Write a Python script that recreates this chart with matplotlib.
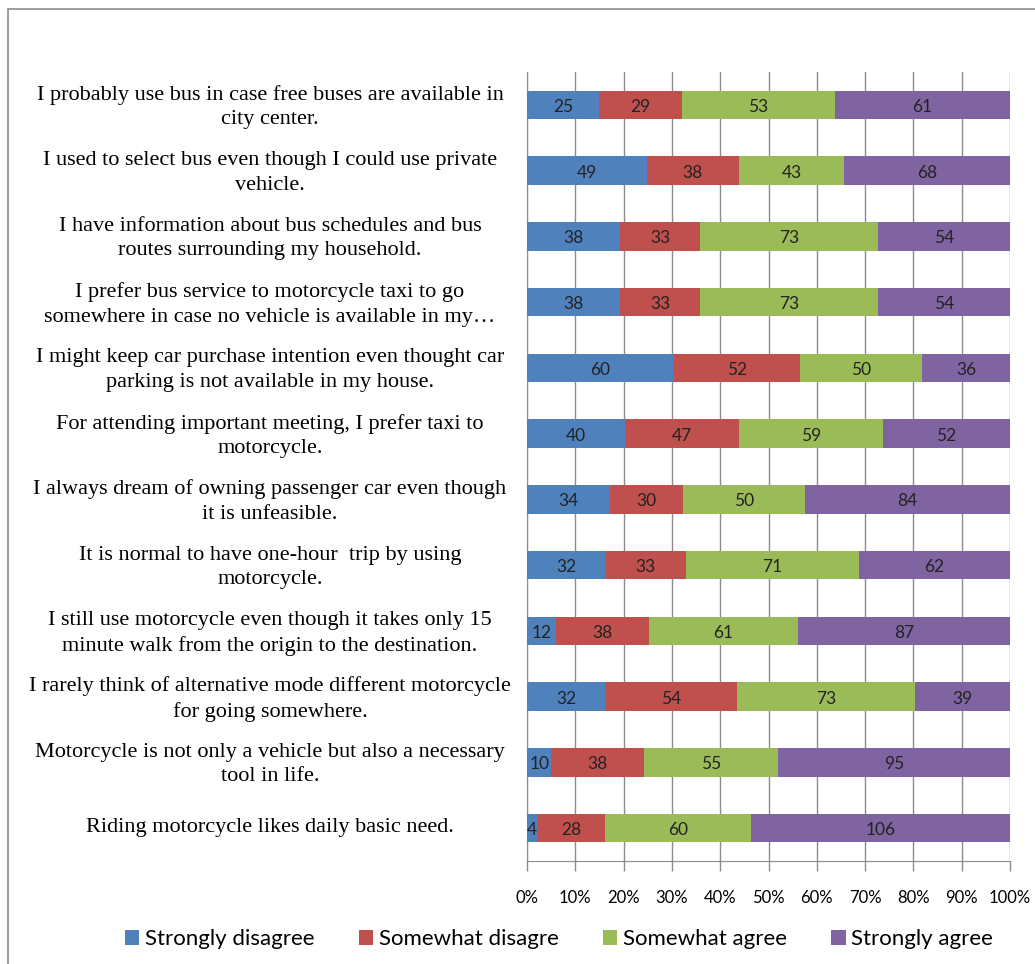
import numpy as np
import matplotlib.pyplot as plt
import matplotlib.transforms as mtransforms
from matplotlib.patches import Rectangle

statements = [
    "I probably use bus in case free buses are available in\ncity center.",
    "I used to select bus even though I could use private\nvehicle.",
    "I have information about bus schedules and bus\nroutes surrounding my household.",
    "I prefer bus service to motorcycle taxi to go\nsomewhere in case no vehicle is available in my\u2026",
    "I might keep car purchase intention even thought car\nparking is not available in my house.",
    "For attending important meeting, I prefer taxi to\nmotorcycle.",
    "I always dream of owning passenger car even though\nit is unfeasible.",
    "It is normal to have one-hour  trip by using\nmotorcycle.",
    "I still use motorcycle even though it takes only 15\nminute walk from the origin to the destination.",
    "I rarely think of alternative mode different motorcycle\nfor going somewhere.",
    "Motorcycle is not only a vehicle but also a necessary\ntool in life.",
    "Riding motorcycle likes daily basic need.",
]
levels = ["Strongly disagree", "Somewhat disagre", "Somewhat agree", "Strongly agree"]
strongly_disagree = [25, 49, 38, 38, 60, 40, 34, 32, 12, 32, 10, 4]
somewhat_disagree = [29, 38, 33, 33, 52, 47, 30, 33, 38, 54, 38, 28]
somewhat_agree = [53, 43, 73, 73, 50, 59, 50, 71, 61, 73, 55, 60]
strongly_agree = [61, 68, 54, 54, 36, 52, 84, 62, 87, 39, 95, 106]
colors = ["#4F81BD", "#C0504D", "#9BBB59", "#8064A2"]

counts = np.array([strongly_disagree, somewhat_disagree, somewhat_agree, strongly_agree], dtype=float)
shares = counts / counts.sum(axis=0)

W, H = 1035, 964
fig = plt.figure(figsize=(W / 100, H / 100), dpi=100)
fig.patches.append(Rectangle((8 / W, -0.1), 1.2, 1 - 9 / H + 0.1, transform=fig.transFigure,
                             fill=False, edgecolor="#8c8c8c", linewidth=1.2))

ax = fig.add_axes([527 / W, 1 - 861 / H, (1010 - 527) / W, (861 - 72) / H])
y = np.arange(len(statements))
left = np.zeros(len(statements))
for i in range(4):
    bars = ax.barh(y, shares[i], left=left, height=0.43, color=colors[i], label=levels[i], zorder=3)
    for j, b in enumerate(bars):
        ax.text(left[j] + shares[i][j] / 2, y[j] + 0.03, "%d" % counts[i][j], ha="center", va="center",
                fontsize=12.5, family="Lato", color="#222222", zorder=4)
    left += shares[i]

ax.set_xlim(0, 1)
ax.set_ylim(len(statements) - 0.5, -0.5)
ax.set_xticks(np.linspace(0, 1, 11))
ax.set_xticklabels(["%d%%" % v for v in range(0, 101, 10)], family="Lato", fontsize=12)
ax.set_yticks(y)
ax.set_yticklabels(statements, family="Liberation Serif", fontsize=16, multialignment="center",
                   ha="center", linespacing=1.4)
ax.tick_params(axis="y", length=0, pad=185)
ax.tick_params(axis="x", length=7, color="#8c8c8c", width=1, pad=14)
# nudge the statement labels up a little so they sit level with the bars
lift = mtransforms.ScaledTranslation(0, 3 / 100, fig.dpi_scale_trans)
for lab in ax.get_yticklabels():
    lab.set_transform(lab.get_transform() + lift)
ax.grid(axis="x", color="#8c8c8c", linewidth=1, zorder=0)
for s in ["top", "right"]:
    ax.spines[s].set_visible(False)
for s in ["left", "bottom"]:
    ax.spines[s].set_color("#8c8c8c")

fig.legend(loc="center", bbox_to_anchor=(559 / W, 1 - 939 / H), ncol=4, frameon=False,
           prop={"family": "Lato", "size": 16}, handlelength=0.65, handleheight=0.65,
           handletextpad=0.25, columnspacing=2.0)

fig.savefig("out.png", dpi=100)
